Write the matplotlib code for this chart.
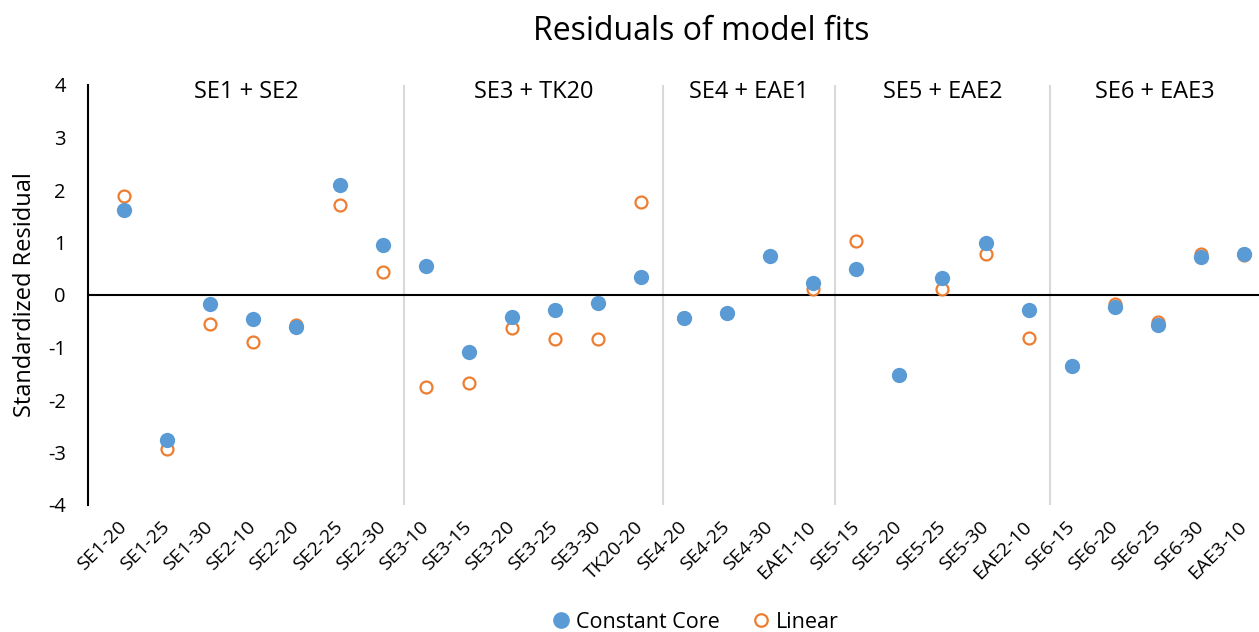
import matplotlib
matplotlib.use('Agg')
import matplotlib.pyplot as plt
from matplotlib.lines import Line2D

plt.rcParams['font.family'] = ['Open Sans', 'DejaVu Sans']
plt.rcParams['axes.unicode_minus'] = False

samples = ['SE1-20', 'SE1-25', 'SE1-30', 'SE2-10', 'SE2-20', 'SE2-25', 'SE2-30',
           'SE3-10', 'SE3-15', 'SE3-20', 'SE3-25', 'SE3-30', 'TK20-20',
           'SE4-20', 'SE4-25', 'SE4-30', 'EAE1-10',
           'SE5-15', 'SE5-20', 'SE5-25', 'SE5-30', 'EAE2-10',
           'SE6-15', 'SE6-20', 'SE6-25', 'SE6-30', 'EAE3-10']

constant_core = [1.62, -2.76, -0.18, -0.46, -0.60, 2.10, 0.95,
                 0.56, -1.08, -0.42, -0.28, -0.16, 0.34,
                 -0.43, -0.35, 0.75, 0.22,
                 0.49, -1.52, 0.33, 0.99, -0.29,
                 -1.35, -0.22, -0.57, 0.72, 0.78]

linear = [1.89, -2.93, -0.55, -0.90, -0.57, 1.71, 0.44,
          -1.76, -1.68, -0.62, -0.83, -0.83, 1.77,
          -0.43, -0.35, 0.75, 0.12,
          1.02, -1.52, 0.12, 0.79, -0.81,
          -1.35, -0.17, -0.51, 0.79, 0.76]

groups = ['SE1 + SE2', 'SE3 + TK20', 'SE4 + EAE1', 'SE5 + EAE2', 'SE6 + EAE3']
group_sizes = [7, 6, 4, 5, 5]

blue = '#5B9BD5'
orange = '#ED7D31'

fig = plt.figure(figsize=(12.59, 6.32), dpi=100)
ax = fig.add_axes([88/1259, 1-505/632, 1-88/1259, 420/632])

x = list(range(len(samples)))
x_left, x_right = -0.84, 26.35

ax.plot(x, linear, linestyle='none', marker='o', ms=8.6, mfc='white',
        mec=orange, mew=1.6, zorder=3, label='Linear')
ax.plot(x, constant_core, linestyle='none', marker='o', ms=11, mfc=blue,
        mec=blue, mew=0, zorder=4, label='Constant Core')

# group separators and group names
edges = [x_left]
pos = -0.5
for n in group_sizes:
    pos += n
    edges.append(pos)
edges[-1] = x_right
for e in edges[1:-1]:
    ax.axvline(e, color='#d9d9d9', lw=1.5, zorder=1)
for g, a, b in zip(groups, edges[:-1], edges[1:]):
    ax.text((a + b) / 2, 3.87, g, ha='center', va='center', fontsize=17)

ax.axhline(0, color='black', lw=1.5, zorder=2)

ax.set_xlim(x_left, x_right)
ax.set_ylim(-4, 4)
ax.set_yticks(range(-4, 5))
ax.tick_params(axis='y', length=0, labelsize=14.5, pad=16)
ax.set_xticks(x)
ax.set_xticklabels(samples, rotation=45, ha='right', va='center',
                   rotation_mode='anchor', fontsize=14)
ax.tick_params(axis='x', length=0, pad=14)

for side in ['top', 'right', 'bottom']:
    ax.spines[side].set_visible(False)
ax.spines['left'].set_linewidth(1.5)

ax.set_ylabel('Standardized Residual', fontsize=17, labelpad=8)
fig.text(0.557, 0.95, 'Residuals of model fits', ha='center', va='center',
         fontsize=23)

handles = [Line2D([], [], linestyle='none', marker='o', ms=11, mfc=blue, mec=blue),
           Line2D([], [], linestyle='none', marker='o', ms=9, mfc='white',
                  mec=orange, mew=1.6)]
fig.legend(handles, ['Constant Core', 'Linear'], loc='lower center',
           bbox_to_anchor=(0.551, -0.032), ncol=2, frameon=False, fontsize=15.5,
           handletextpad=0.1, columnspacing=1.3, handlelength=1.2)

fig.savefig('out.png', dpi=100)
